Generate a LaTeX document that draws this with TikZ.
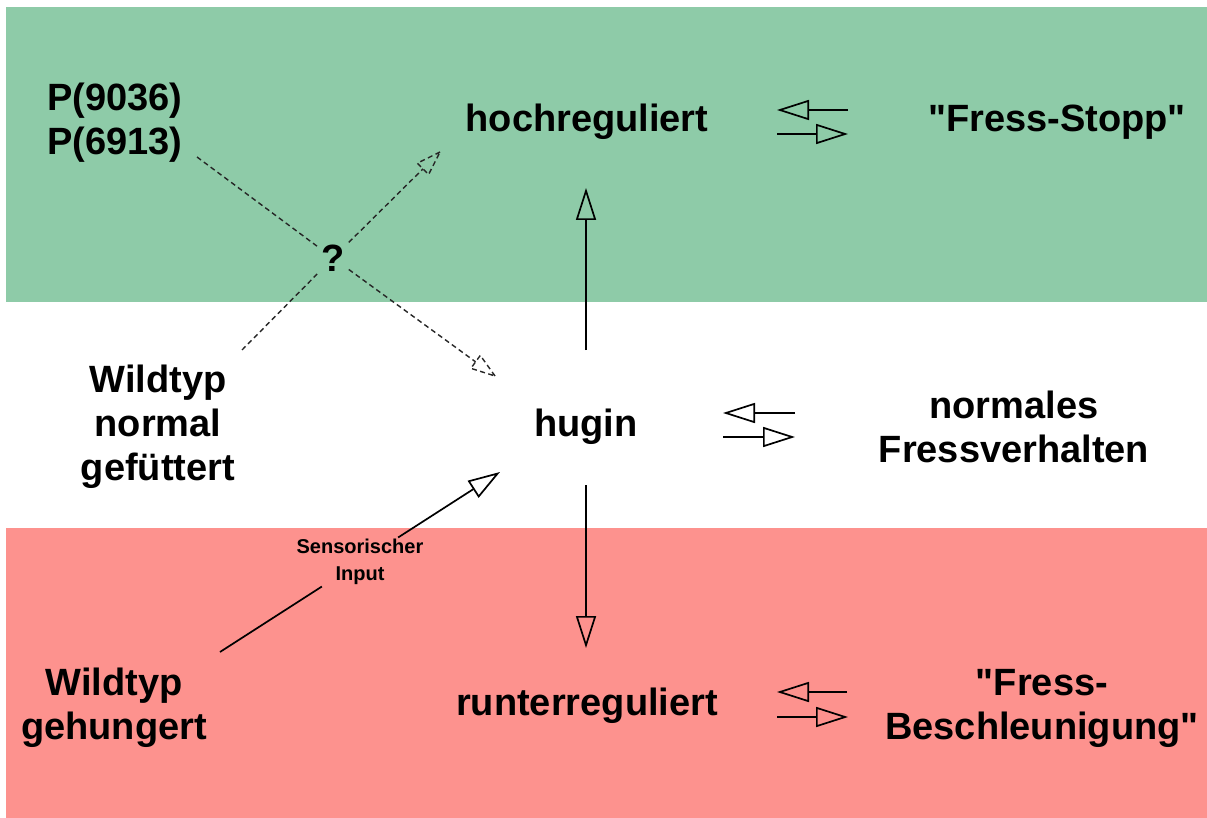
\documentclass[tikz,border=0pt]{standalone}
\usepackage{fontspec}
\setmainfont{Liberation Sans}
% a family without the TeX quote mapping, so " stays straight
\newfontfamily\labelfont{Liberation Sans}
\usetikzlibrary{arrows.meta,calc}
\definecolor{bandgreen}{RGB}{142,203,168}
\definecolor{bandred}{RGB}{253,146,142}
\begin{document}
\begin{tikzpicture}[x=1pt,y=-1pt,
  lbl/.style={font=\labelfont\fontsize{38}{44}\selectfont\bfseries, align=center, inner sep=0pt},
  small/.style={font=\labelfont\fontsize{20}{27}\selectfont\bfseries, align=center, inner sep=1.5pt},
  plain/.style={line width=1.7pt},
  link/.style={line width=1.7pt, -{Triangle[open,length=32pt,width=20pt]}},
  guessline/.style={line width=1.4pt, draw=black!85, dash pattern=on 5pt off 3.5pt},
]
\useasboundingbox (0,0) rectangle (1207,818);
% background bands
\fill[white] (0,0) rectangle (1207,818);
\fill[bandgreen] (6,7) rectangle (1207,302);
\fill[bandred] (6,528) rectangle (1207,818);

% labels
\node[lbl, anchor=west, align=left] (p) at (47,123) {P(9036)\\P(6913)};
\node[lbl] (hoch) at (587,122) {hochreguliert};
\node[lbl] (stopp) at (1057,122) {"Fress-Stopp"};
\node[lbl] (hugin) at (586,427) {hugin};
\node[lbl] (normal) at (1014,427) {normales\\Fressverhalten};
\node[lbl] (wtn) at (158,427) {Wildtyp\\normal\\gefüttert};
\node[lbl] (runter) at (587,706) {runterreguliert};
\node[lbl] (besch) at (1042,708) {"Fress-\\Beschleunigung"};
\node[lbl] (wtg) at (114,708) {Wildtyp\\gehungert};
\node[small] (sens) at (360,562) {Sensorischer\\Input};
\node[lbl, inner sep=4pt] (q) at (333,258) {?};

% connector end points
\coordinate (pEnd) at (197,157);
\coordinate (wEnd) at (242,350);
\coordinate (huginTip) at (495,376);
\coordinate (hochTip) at (440,152);
\coordinate (upFrom) at (586,350);
\coordinate (upTo) at (586,188);
\coordinate (downFrom) at (586,485);
\coordinate (downTo) at (586,648);
\coordinate (gStart) at (220,652);
\coordinate (sTip) at (500,472);

% hypothetical links through the question mark, with dashed open heads
\coordinate (hbase) at ($(huginTip)!24pt!(q)$);
\coordinate (obase) at ($(hochTip)!24pt!(q)$);
\draw[guessline] (pEnd) -- (q);
\draw[guessline] (q) -- (hbase);
\draw[guessline, line join=round] (huginTip) -- ($(hbase)!8pt!90:(huginTip)$) -- ($(hbase)!8pt!-90:(huginTip)$) -- cycle;
\draw[guessline] (wEnd) -- (q);
\draw[guessline] (q) -- (obase);
\draw[guessline, line join=round] (hochTip) -- ($(obase)!8pt!90:(hochTip)$) -- ($(obase)!8pt!-90:(hochTip)$) -- cycle;

% regulation of hugin
\draw[link] (upFrom) -- (upTo);
\draw[link] (downFrom) -- (downTo);

% sensory input
\draw[plain] (gStart) -- (sens);
\draw[link] (sens) -- (sTip);

% reversible links to behaviour
\coordinate (a1) at (848,110); \coordinate (a2) at (777,110);
\coordinate (a3) at (777,134); \coordinate (a4) at (848,134);
\draw[link] (a1) -- (a2);
\draw[link] (a3) -- (a4);
\coordinate (b1) at (795,413); \coordinate (b2) at (723,413);
\coordinate (b3) at (723,437); \coordinate (b4) at (795,437);
\draw[link] (b1) -- (b2);
\draw[link] (b3) -- (b4);
\coordinate (c1) at (847,692); \coordinate (c2) at (777,692);
\coordinate (c3) at (777,717); \coordinate (c4) at (848,717);
\draw[link] (c1) -- (c2);
\draw[link] (c3) -- (c4);
\end{tikzpicture}
\end{document}
